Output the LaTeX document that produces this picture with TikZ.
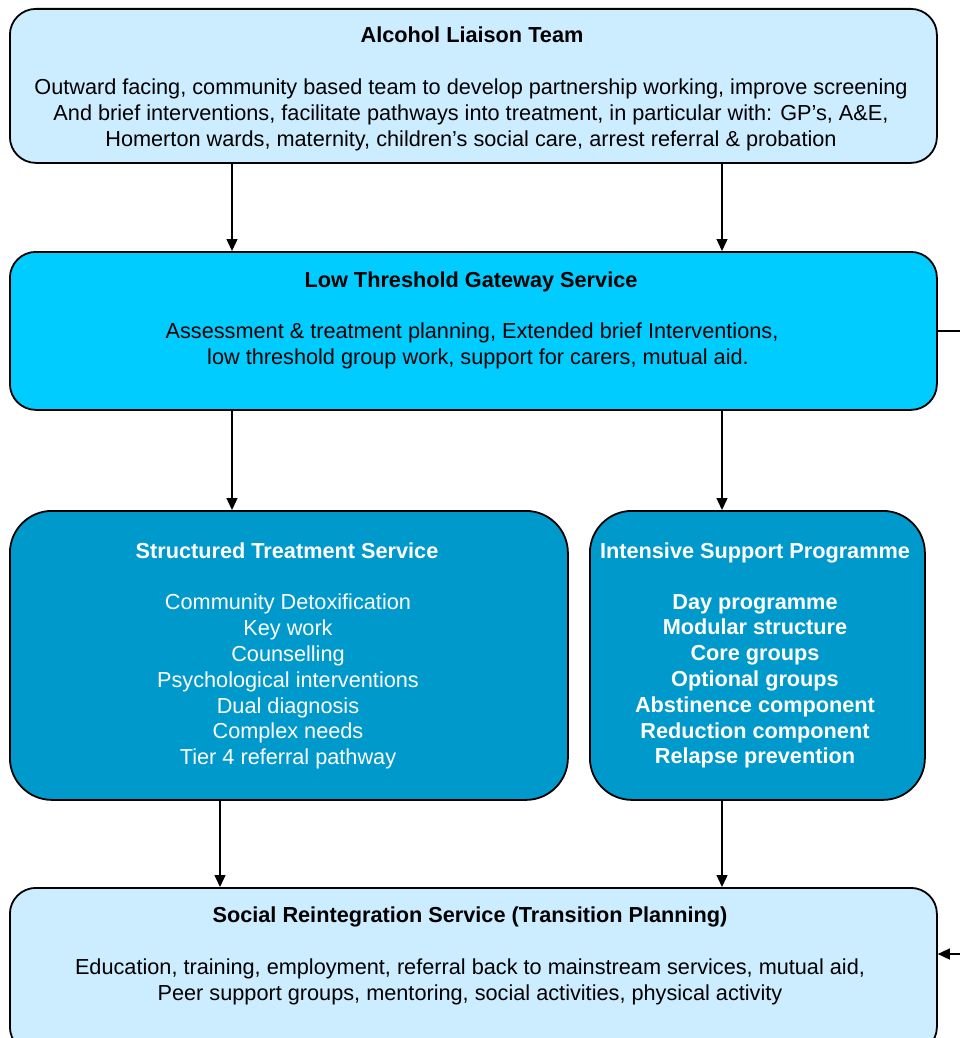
\documentclass[tikz,border=0pt]{standalone}
\usepackage{fontspec}
\setmainfont{Liberation Sans}
\usetikzlibrary{arrows.meta}
\definecolor{lightbox}{HTML}{CCECFF}
\definecolor{cyanbox}{HTML}{00CCFF}
\definecolor{bluebox}{HTML}{0099CC}
\begin{document}
\begin{tikzpicture}[x=1pt,y=-1pt,
  box/.style={draw=black,line width=1.8pt,rectangle,anchor=north west,inner sep=0pt},
  title/.style={font=\fontsize{21.7}{25.8}\selectfont\bfseries,anchor=base,inner sep=0pt},
  body/.style={font=\fontsize{21.7}{25.8}\selectfont,align=center,anchor=north,inner sep=0pt},
  arr/.style={line width=1.4pt,-{Triangle[length=12pt,width=11pt]}},
  link/.style={line width=1.4pt}]
\clip (0,0) rectangle (960,1038);
% boxes
\node[box,fill=lightbox,rounded corners=26pt,minimum width=927pt,minimum height=154pt] (alt) at (9,8) {};
\node[box,fill=cyanbox,rounded corners=26pt,minimum width=927pt,minimum height=158pt] (gw) at (9,251) {};
\node[box,fill=bluebox,rounded corners=42pt,minimum width=558pt,minimum height=289pt] (sts) at (9,510) {};
\node[box,fill=bluebox,rounded corners=42pt,minimum width=335pt,minimum height=289pt] (isp) at (589,510) {};
\node[box,fill=lightbox,rounded corners=26pt,minimum width=927pt,minimum height=165pt] (sr) at (9,887) {};
% texts
\node[title] (altT) at (472,42.5) {Alcohol Liaison Team};
\node[body] (altB) at (471,78.5) {Outward facing, community based team to develop partnership working, improve screening\\And brief interventions, facilitate pathways into treatment, in particular with: GP’s, A\&E,\\Homerton wards, maternity, children’s social care, arrest referral \& probation};
\node[title] (gwT) at (471,287.5) {Low Threshold Gateway Service};
\node[body] (gwB) at (472,322.5) {Assessment \& treatment planning, Extended brief Interventions,\\\hspace*{12pt}low threshold group work, support for carers, mutual aid.};
\node[title,text=white] (stsT) at (287,558.5) {Structured Treatment Service};
\node[body,text=white] (stsB) at (288,594) {Community Detoxification\\Key work\\Counselling\\Psychological interventions\\Dual diagnosis\\Complex needs\\Tier 4 referral pathway};
\node[title,text=white] (ispT) at (755,558.5) {Intensive Support Programme};
\node[body,text=white,font=\fontsize{21.7}{25.8}\selectfont\bfseries] (ispB) at (755,594) {Day programme\\Modular structure\\Core groups\\Optional groups\\Abstinence component\\Reduction component\\Relapse prevention};
\node[title] (srT) at (470,922.5) {Social Reintegration Service (Transition Planning)};
\node[body] (srB) at (470,958.5) {Education, training, employment, referral back to mainstream services, mutual aid,\\Peer support groups, mentoring, social activities, physical activity};
% connectors
\draw[arr] (alt.south -| 232,0) -- (gw.north -| 232,0);
\draw[arr] (alt.south -| 722,0) -- (gw.north -| 722,0);
\draw[arr] (gw.south -| 232,0) -- (sts.north -| 232,0);
\draw[arr] (gw.south -| 722,0) -- (isp.north -| 722,0);
\draw[arr] (sts.south -| 220,0) -- (sr.north -| 220,0);
\draw[arr] (isp.south -| 722,0) -- (sr.north -| 722,0);
\coordinate (r1) at (980,331);
\coordinate (r2) at (980,954);
\draw[link] (gw.east |- r1) -- (r1);
\draw[arr] (r1) -- (r2) -- (sr.east |- r2);
\end{tikzpicture}
\end{document}
